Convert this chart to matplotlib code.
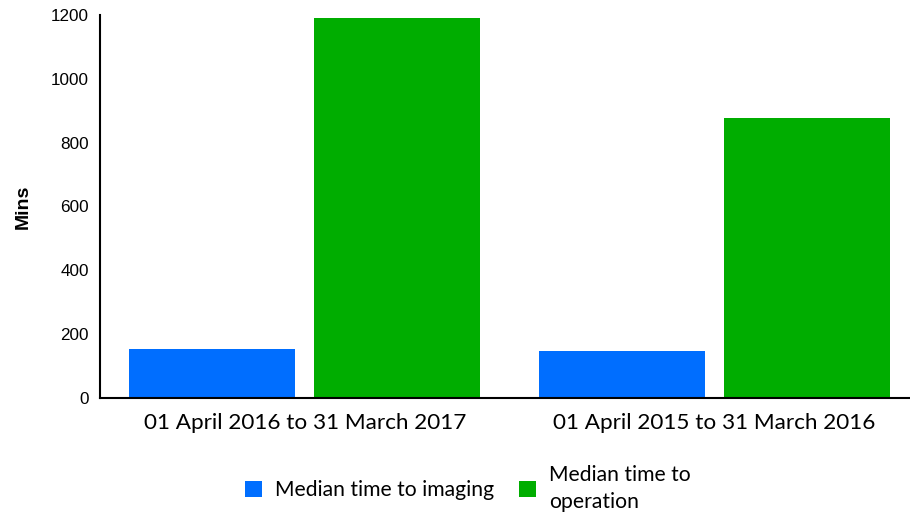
import matplotlib
matplotlib.use("Agg")
import matplotlib.pyplot as plt
import numpy as np

categories = ["01 April 2016 to 31 March 2017", "01 April 2015 to 31 March 2016"]
series_names = ["Median time to imaging", "Median time to\noperation"]
imaging = [154, 148]
operation = [1191, 877]
yticks = [0, 200, 400, 600, 800, 1000, 1200]

colors = ["#006EFF", "#00AD00"]

fig = plt.figure(figsize=(9.10, 5.15), dpi=100)
ax = fig.add_axes([100/910, 1 - 398/515, 810/910, (398-15)/515])

x = np.arange(len(categories))
w = 0.405
off = 0.226
ax.bar(x - off, imaging, width=w, color=colors[0], label=series_names[0])
ax.bar(x + off, operation, width=w, color=colors[1], label=series_names[1])

ax.set_xlim(-0.5, 1.478)
ax.set_ylim(0, 1200)
ax.set_yticks(yticks)
ax.set_yticklabels([str(v) for v in yticks], fontsize=12.3, family="Liberation Sans")
ax.set_xticks(x)
ax.set_xticklabels(categories, fontsize=16.2, family="Lato")
ax.tick_params(axis="both", length=0)
ax.tick_params(axis="y", pad=8)
ax.tick_params(axis="x", pad=11)
for s in ["top", "right"]:
    ax.spines[s].set_visible(False)
for s in ["left", "bottom"]:
    ax.spines[s].set_linewidth(1.5)
    ax.spines[s].set_color("black")

ax.set_ylabel("Mins", fontsize=14, fontweight="bold", family="Liberation Sans", labelpad=14)

leg = fig.legend(loc="center", bbox_to_anchor=(0.514, 0.052), ncol=2, frameon=False,
                 prop={"family": "Lato", "size": 15.2}, handlelength=0.8, handleheight=0.8,
                 handletextpad=0.6, columnspacing=1.2)
for t in leg.get_texts():
    t.set_linespacing(1.45)

fig.savefig("out.png", dpi=100)
